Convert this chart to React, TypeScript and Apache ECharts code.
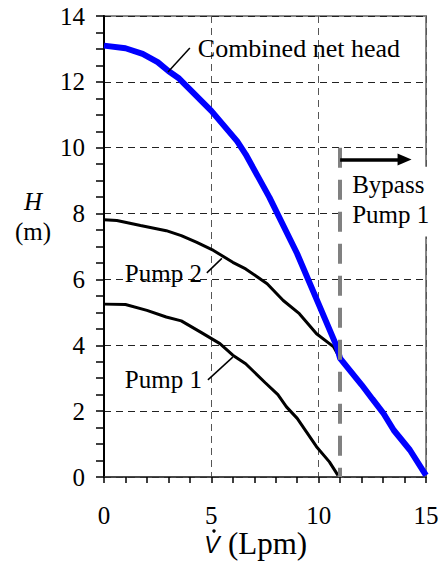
import React, { useEffect, useRef } from "react";
import * as echarts from "echarts";

const pump1V = [0, 1, 2, 2.9, 3.6, 4.5, 5.4, 6, 6.6, 7.5, 8.1, 8.5, 9, 9.9, 10.5, 10.9];
const pump1H = [5.25, 5.24, 5.06, 4.86, 4.74, 4.4, 4.05, 3.7, 3.44, 2.87, 2.5, 2.13, 1.78, 0.92, 0.46, 0.05];
const pump2V = [0, 0.6, 1.7, 2.9, 3.6, 4.3, 5.1, 6, 6.6, 7.6, 8.35, 9.1, 9.9, 10.7, 11];
const pump2H = [7.81, 7.79, 7.64, 7.48, 7.33, 7.13, 6.88, 6.52, 6.32, 5.87, 5.36, 4.96, 4.35, 3.95, 3.6];
const combinedV = [0, 1, 1.8, 2.5, 3, 3.5, 5, 6.2, 6.6, 7.7, 9, 10.85, 11, 12, 12.5, 13, 13.5, 14.25, 15];
const combinedH = [13.1, 13.02, 12.85, 12.6, 12.33, 12.1, 11.12, 10.2, 9.8, 8.5, 6.78, 3.95, 3.6, 2.8, 2.37, 1.95, 1.42, 0.82, 0.05];

const bypassV = 11;
const bypassTop = 10;
const arrowH = 9.64;
const arrowEndV = 14;

const labelText = {
  combined: "Combined net head",
  pump2: "Pump 2",
  pump1: "Pump 1",
  bypass1: "Bypass",
  bypass2: "Pump 1",
};

const zip = (a: number[], b: number[]) => a.map((v, i) => [v, b[i]]);

const SERIF = "Liberation Serif";

export default function App() {
  const ref = useRef<HTMLDivElement>(null);
  useEffect(() => {
    const chart = echarts.init(ref.current!, undefined, { renderer: "svg" });
    chart.setOption({
      animation: false,
      textStyle: { fontFamily: SERIF },
      grid: {
        left: 104,
        right: 19,
        top: 16,
        bottom: 98,
        show: true,
        borderColor: "#888",
        borderWidth: 2,
      },
      xAxis: {
        type: "value",
        min: 0,
        max: 15,
        interval: 5,
        axisLine: { show: true, lineStyle: { color: "#333", width: 1.5 } },
        axisTick: { show: true, length: 6, lineStyle: { color: "#000", width: 1.5 } },
        minorTick: { show: true, splitNumber: 5, length: 6, lineStyle: { color: "#000", width: 1.5 } },
        axisLabel: { fontFamily: SERIF, fontSize: 25, color: "#000", margin: 26 },
        splitLine: { show: true, lineStyle: { color: "#555", width: 1, type: [7, 5] } },
      },
      yAxis: {
        type: "value",
        min: 0,
        max: 14,
        interval: 2,
        axisLine: { show: true, lineStyle: { color: "#000", width: 2 } },
        axisTick: { show: true, length: 8, lineStyle: { color: "#000", width: 1.5 } },
        minorTick: { show: true, splitNumber: 4, length: 8, lineStyle: { color: "#000", width: 1.5 } },
        axisLabel: { fontFamily: SERIF, fontSize: 25, color: "#000", margin: 19 },
        splitLine: { show: true, lineStyle: { color: "#222", width: 1, type: [7, 5] } },
      },
      series: [
        {
          type: "line",
          data: [],
          z: 2,
          silent: true,
          markLine: {
            silent: true,
            animation: false,
            label: { show: false },
            data: [
              [
                {
                  coord: [bypassV, bypassTop],
                  symbol: "none",
                  lineStyle: { color: "#808080", width: 4, type: [20, 12] },
                },
                { coord: [bypassV, 0], symbol: "none" },
              ],
              [
                {
                  coord: [bypassV, arrowH],
                  symbol: "none",
                  lineStyle: { color: "#000", width: 3.5, type: "solid" },
                },
                { coord: [arrowEndV, arrowH], symbol: "triangle", symbolRotate: -90, symbolSize: [12, 14] },
              ],
            ],
          },
        },
        {
          type: "line",
          data: zip(pump1V, pump1H),
          showSymbol: false,
          z: 3,
          lineStyle: { color: "#000", width: 3 },
        },
        {
          type: "line",
          data: zip(pump2V, pump2H),
          showSymbol: false,
          z: 3,
          lineStyle: { color: "#000", width: 3 },
        },
        {
          type: "line",
          data: zip(combinedV, combinedH),
          showSymbol: false,
          z: 4,
          lineStyle: { color: "#0000ff", width: 6 },
        },
      ],
    });

    const p = (v: number, h: number) => chart.convertToPixel({ gridIndex: 0 }, [v, h]) as number[];
    const text = (t: string, v: number, h: number, size = 25, style = "normal") => {
      const [x, y] = p(v, h);
      return {
        type: "text",
        z: 10,
        style: { text: t, x, y, fontFamily: SERIF, fontSize: size, fontStyle: style, fill: "#000", align: "left", verticalAlign: "middle" },
      };
    };
    const leader = (v1: number, h1: number, v2: number, h2: number) => {
      const [x1, y1] = p(v1, h1);
      const [x2, y2] = p(v2, h2);
      return { type: "line", z: 10, shape: { x1, y1, x2, y2 }, style: { stroke: "#000", lineWidth: 1.5 } };
    };
    const [rx1, ry1] = p(11.15, 9.42);
    const [rx2, ry2] = p(15.3, 7.3);

    chart.setOption({
      graphic: [
        { type: "rect", z: 1, shape: { x: rx1, y: ry1, width: rx2 - rx1, height: ry2 - ry1 }, style: { fill: "#fff" } },
        leader(2.98, 12.3, 4.0, 13.03),
        text(labelText.combined, 4.37, 13.02, 26),
        leader(4.79, 6.2, 5.49, 6.64),
        text(labelText.pump2, 0.97, 6.19),
        leader(4.84, 2.95, 6.0, 3.64),
        text(labelText.pump1, 0.97, 2.95),
        text(labelText.bypass1, 11.56, 8.88),
        text(labelText.bypass2, 11.56, 7.97),
        { type: "text", z: 10, style: { text: "H", x: 33, y: 201, fontFamily: SERIF, fontSize: 25, fontStyle: "italic", fill: "#000", align: "center", verticalAlign: "middle" } },
        { type: "text", z: 10, style: { text: "(m)", x: 33, y: 231, fontFamily: SERIF, fontSize: 25, fill: "#000", align: "center", verticalAlign: "middle" } },
        { type: "text", z: 10, style: { text: "V", x: 212, y: 545, fontFamily: "Liberation Sans", fontSize: 23, fontStyle: "italic", fill: "#000", align: "center", verticalAlign: "middle" } },
        { type: "circle", z: 10, shape: { cx: 214, cy: 531, r: 1.7 }, style: { fill: "#000" } },
        { type: "text", z: 10, style: { text: "(Lpm)", x: 228, y: 543, fontFamily: SERIF, fontSize: 31, fill: "#000", align: "left", verticalAlign: "middle" } },
      ],
    });
    return () => chart.dispose();
  }, []);
  return <div ref={ref} style={{ position: "absolute", left: 0, top: 0, width: 445, height: 575 }} />;
}
